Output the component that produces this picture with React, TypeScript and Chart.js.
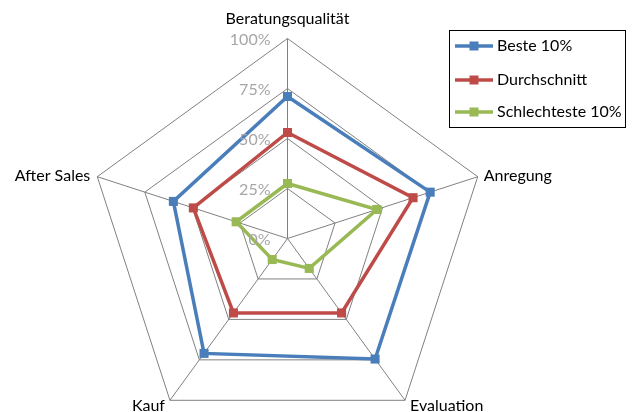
import React, { useEffect, useRef } from "react";
import { Chart, registerables } from "chart.js";

Chart.register(...registerables);

const categories = ["Beratungsqualität", "Anregung", "Evaluation", "Kauf", "After Sales"];
const seriesNames = ["Beste 10%", "Durchschnitt", "Schlechteste 10%"];
const besteValues = [71, 75, 74.5, 71, 60];
const durchschnittValues = [53, 66, 46, 46, 49.5];
const schlechtesteValues = [27.5, 47, 18.5, 13, 27];
const tickValues = [0, 25, 50, 75, 100];
const tickLabels = ["0%", "25%", "50%", "75%", "100%"];
const seriesColors = ["#4A7EBB", "#BE4B48", "#98B954"];

const FONT = '16px Lato, "Liberation Sans", sans-serif';
const GRID = "#808080";

const overlayPlugin = {
  id: "overlay",
  afterLayout(chart: any) {
    const s = chart.scales.r;
    s.xCenter = 287.5;
    s.yCenter = 238.5;
    s.drawingArea = 200;
  },
  afterDraw(chart: any) {
    const ctx = chart.ctx as CanvasRenderingContext2D;
    const s = chart.scales.r;
    ctx.save();
    ctx.font = FONT;
    ctx.textBaseline = "middle";

    // tick labels
    ctx.fillStyle = "#A6A6A6";
    ctx.textAlign = "right";
    tickValues.forEach((v, i) => {
      const d = s.getDistanceFromCenterForValue(v);
      ctx.fillText(tickLabels[i], s.xCenter - 17, s.yCenter - d + 1.5);
    });

    // category labels
    ctx.fillStyle = "#000";
    const place: Array<[CanvasTextAlign, number, number]> = [
      ["center", 0, -20],
      ["left", 6, -1],
      ["left", 5, 6],
      ["right", -5, 6],
      ["right", -7, -1],
    ];
    categories.forEach((c, i) => {
      const p = s.getPointPosition(i, s.drawingArea);
      const [al, dx, dy] = place[i];
      ctx.textAlign = al;
      ctx.fillText(c, p.x + dx, p.y + dy);
    });

    // legend
    ctx.strokeStyle = "#000";
    ctx.lineWidth = 1;
    ctx.strokeRect(449.5, 30.5, 176, 97);
    const rows = [46, 80, 112];
    chart.data.datasets.forEach((ds: any, i: number) => {
      const y = rows[i];
      ctx.strokeStyle = ds.borderColor;
      ctx.lineWidth = 3.5;
      ctx.beginPath();
      ctx.moveTo(455, y);
      ctx.lineTo(493, y);
      ctx.stroke();
      ctx.fillStyle = ds.borderColor;
      ctx.fillRect(469.5, y - 4.5, 9, 9);
      ctx.fillStyle = "#000";
      ctx.textAlign = "left";
      ctx.fillText(ds.label, 497, y);
    });
    ctx.restore();
  },
};

export default function App() {
  const ref = useRef<HTMLCanvasElement | null>(null);
  useEffect(() => {
    if (!ref.current) return;
    const seriesValues = [besteValues, durchschnittValues, schlechtesteValues];
    const chart = new Chart(ref.current, {
      type: "radar",
      data: {
        labels: categories,
        datasets: seriesNames.map((name, i) => ({
          label: name,
          data: seriesValues[i],
          borderColor: seriesColors[i],
          backgroundColor: seriesColors[i],
          pointBackgroundColor: seriesColors[i],
          pointBorderColor: seriesColors[i],
          borderWidth: 3.5,
          pointStyle: "rect",
          pointRadius: 6.4,
          pointBorderWidth: 0,
          fill: false,
          tension: 0,
          clip: false,
        })),
      },
      options: {
        responsive: false,
        animation: false,
        layout: { padding: 0 },
        plugins: { legend: { display: false }, tooltip: { enabled: false } },
        scales: {
          r: {
            min: 0,
            max: 100,
            ticks: { stepSize: 25, display: false },
            pointLabels: { display: false },
            grid: { color: GRID, lineWidth: 1, circular: false },
            angleLines: { color: GRID, lineWidth: 1 },
          },
        },
      },
      plugins: [overlayPlugin],
    });
    return () => chart.destroy();
  }, []);
  return (
    <div style={{ position: "fixed", left: 0, top: 0, width: 632, height: 412, background: "#fff" }}>
      <canvas ref={ref} width={632} height={412} style={{ display: "block" }} />
    </div>
  );
}
